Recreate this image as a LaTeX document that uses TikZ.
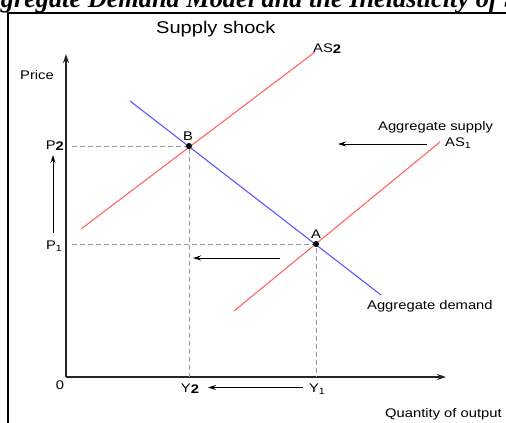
\documentclass[tikz,border=0pt]{standalone}
\usepackage{fontspec}
\usepackage{graphicx}
\setmainfont{Liberation Sans}
\newfontfamily\titlefont{Liberation Serif}
\usetikzlibrary{arrows.meta}
\newcommand{\wide}[1]{\scalebox{1.18}[1]{#1}}
\tikzset{lbl/.style={font=\fontsize{12.5}{14}\selectfont,inner sep=0pt},
  supply/.style={red!60!white,line width=1.1pt},
  demand/.style={blue!65!white,line width=1.1pt},
  guide/.style={gray!80,dash pattern=on 5pt off 3pt,line width=0.8pt},
  shiftarrow/.style={-{Stealth[length=8pt,width=5pt]},line width=0.9pt}}
\newcommand{\bsub}[1]{\raisebox{-1.5pt}{\textbf{#1}}}
\newcommand{\nsub}[1]{\raisebox{-2.5pt}{\fontsize{9}{10}\selectfont #1}}
\begin{document}
\begin{tikzpicture}[x=1pt,y=-1pt]
\useasboundingbox (0,0) rectangle (506,423); \clip (0,0) rectangle (506,423);
\fill[white] (0,0) rectangle (506,423);
\node[anchor=base west,inner sep=0pt,font=\titlefont\bfseries\itshape\fontsize{26.3}{28}\selectfont] (title) at (-30,8) {Aggregate Demand Model and the Inelasticity of Supply};
\draw[line width=1.4pt] (8,430) -- (8,13) -- (510,13);
\node[font=\fontsize{17}{19}\selectfont,anchor=base west,inner sep=0pt] (shock) at (156,33) {\wide{Supply shock}};
\coordinate (O) at (66,377); \coordinate (ytop) at (66,54); \coordinate (xend) at (446,377);
\draw[gray!30!black,line width=1.3pt,-{Stealth[length=9pt,width=6pt]}] (O) -- (ytop);
\draw[gray!30!black,line width=1.3pt,-{Stealth[length=9pt,width=6pt]}] (O) -- (xend);
\node[lbl,anchor=base west] (price) at (20,79) {\wide{Price}};
\node[lbl,anchor=base] (zero) at (60,389) {\wide{0}};
\node[lbl,anchor=base west] (qty) at (385,417) {\wide{Quantity of output}};
\coordinate (B) at (189,146); \coordinate (A) at (316,244);
\coordinate (as2a) at (81,229); \coordinate (as2b) at (315,52);
\coordinate (as1a) at (234,311); \coordinate (as1b) at (440,142);
\coordinate (ada) at (130,101); \coordinate (adb) at (381,295);
\draw[guide] (72,146) -- (B) -- (189,377);
\draw[guide] (72,244) -- (A) -- (316,377);
\draw[supply] (as2a) -- (as2b); \draw[supply] (as1a) -- (as1b);
\draw[demand] (ada) -- (adb);
\fill (B) circle (3pt); \fill (A) circle (3pt);
\node[lbl,anchor=base] (lB) at (188,140) {\wide{B}};
\node[lbl,anchor=base] (lA) at (316,238) {\wide{A}};
\node[lbl,anchor=base west] (las2) at (313,52) {\wide{AS\bsub{2}}};
\node[lbl,anchor=base west] (las1) at (445,146) {\wide{AS\nsub{1}}};
\node[lbl,anchor=base west] (lagg) at (378,130) {\wide{Aggregate supply}};
\node[lbl,anchor=base west] (lad) at (367,309) {\wide{Aggregate demand}};
\node[lbl,anchor=base east] (p2) at (64,149) {\wide{P\bsub{2}}};
\node[lbl,anchor=base east] (p1) at (62,249) {\wide{P\nsub{1}}};
\node[lbl,anchor=base] (y2) at (190,392) {\wide{Y\bsub{2}}};
\node[lbl,anchor=base] (y1) at (317,392) {\wide{Y\nsub{1}}};
\coordinate (up0) at (53,233); \coordinate (up1) at (53,155);
\draw[shiftarrow] (up0) -- (up1);
\coordinate (m0) at (280,258); \coordinate (m1) at (193,258);
\draw[shiftarrow] (m0) -- (m1);
\coordinate (t0) at (427,144); \coordinate (t1) at (338,144);
\draw[shiftarrow] (t0) -- (t1);
\coordinate (b0) at (303,387.5); \coordinate (b1) at (208,387.5);
\draw[shiftarrow] (b0) -- (b1);
\end{tikzpicture}
\end{document}
